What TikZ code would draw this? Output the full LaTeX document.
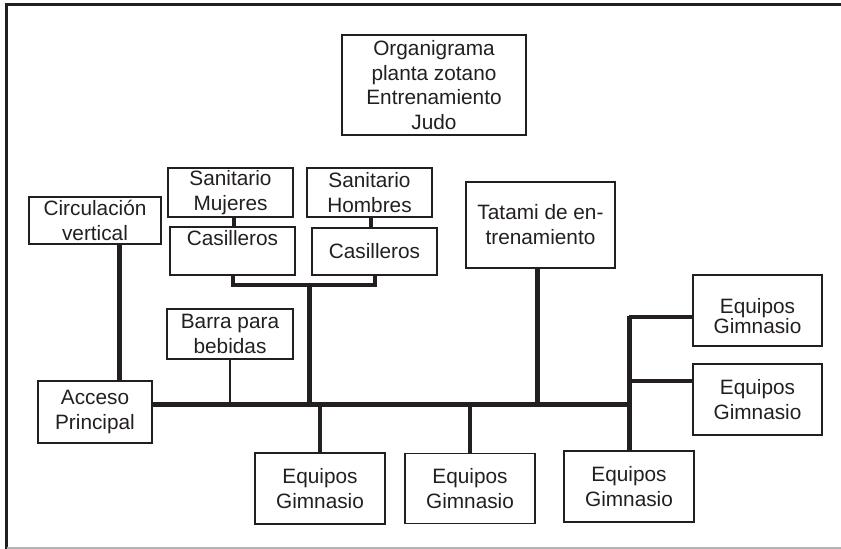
\documentclass[tikz,border=0pt]{standalone}
\usepackage{fontspec}
\setmainfont{Liberation Sans}
\usetikzlibrary{positioning}
\definecolor{inkdark}{HTML}{231F20}
\definecolor{framegray}{HTML}{B4B4B4}
\newcommand{\dropline}[1]{\raisebox{-6pt}[\height][\depth]{#1}}
\tikzset{
  roomnode/.style={draw=inkdark,line width=1.8pt,inner sep=0pt,align=center,
    text=inkdark,font=\fontsize{20.8}{25}\selectfont},
  titlenode/.style={roomnode,line width=1.5pt,font=\fontsize{20.8}{24.5}\selectfont},
  thkedge/.style={draw=inkdark,line width=5pt},
  midedge/.style={draw=inkdark,line width=4pt},
  sideedge/.style={draw=inkdark,line width=3.5pt},
  thnedge/.style={draw=inkdark,line width=2.5pt},
}

\begin{document}
\begin{tikzpicture}[x=1pt,y=-1pt]
  \useasboundingbox (0,0) rectangle (841,549);
  % frame
  \draw[inkdark,line width=3pt] (841,4) -- (6.5,4) -- (6.5,549);
  \draw[framegray,line width=1.5pt] (6.5,548) -- (841,548);
  % rooms
  \node[titlenode,minimum width=184,minimum height=100] (nTitle) at (434,85)
    {Organigrama\\planta zotano\\Entrenamiento\\Judo};
  \node[roomnode,minimum width=132,minimum height=47] (nCirc) at (95,220.5) {Circulación\\vertical};
  \node[roomnode,minimum width=125,minimum height=49] (nSanM) at (230.5,192.5) {Sanitario\\Mujeres};
  \node[roomnode,minimum width=125,minimum height=49] (nSanH) at (369.5,192.5) {Sanitario\\Hombres};
  \node[roomnode,minimum width=125,minimum height=48] (nCasL) at (232.5,251) {Casilleros\\\phantom{Casilleros}};
  \node[roomnode,minimum width=125,minimum height=47] (nCasR) at (374.5,251.5) {Casilleros};
  \node[roomnode,minimum width=149,minimum height=86] (nTatami) at (540.5,225) {Tatami de en-\\trenamiento};
  \node[roomnode,minimum width=126,minimum height=50] (nBarra) at (230,334) {Barra para\\bebidas};
  \node[roomnode,minimum width=114,minimum height=62] (nAcc) at (95,412) {Acceso\\Principal};
  \node[roomnode,minimum width=130,minimum height=71] (nEqA) at (320,488.5) {Equipos\\Gimnasio};
  \node[roomnode,minimum width=130,minimum height=70] (nEqB) at (470,488.5) {Equipos\\Gimnasio};
  \node[roomnode,minimum width=130,minimum height=71] (nEqC) at (629,486.5) {Equipos\\Gimnasio};
  \node[roomnode,minimum width=129,minimum height=71] (nEqD) at (757.5,310.5)
    {\dropline{Equipos}\\[-5pt]\dropline{Gimnasio}};
  \node[roomnode,minimum width=129,minimum height=71] (nEqE) at (757.5,399.5) {Equipos\\Gimnasio};
  % junctions
  \coordinate (cMain) at (631,404);
  \coordinate (cBrk) at (309,285);
  \coordinate (cTop) at (629,315.5);
  \coordinate (cSideA) at (629,317);
  \coordinate (cSideB) at (629,381);
  % connectors
  \draw[thkedge] ([xshift=24pt]nCirc.south) -- ([xshift=24pt]nAcc.north);
  \draw[midedge] ([xshift=3pt]nSanM.south) -- ([xshift=3pt]nSanM.south |- nCasL.north);
  \draw[midedge] ([xshift=1.5pt]nSanH.south) -- ([xshift=1.5pt]nSanH.south |- nCasR.north);
  \draw[midedge] (nCasL.south) |- (cBrk) -| (nCasR.south);
  \draw[thkedge] (cBrk) -- (cBrk |- cMain);
  \draw[thkedge] (nAcc.east |- cMain) -- (cMain);
  \draw[thnedge] (nBarra.south) -- (nBarra.south |- cMain);
  \draw[thkedge] ([xshift=-3pt]nTatami.south) -- ([xshift=-3pt]nTatami.south |- cMain);
  \draw[midedge] (nEqA.north |- cMain) -- (nEqA.north);
  \draw[midedge] (nEqB.north |- cMain) -- (nEqB.north);
  \draw[thkedge] (cTop) -- (nEqC.north);
  \draw[sideedge] (cSideA) -- (cSideA -| nEqD.west);
  \draw[sideedge] (cSideB) -- (cSideB -| nEqE.west);
\end{tikzpicture}
\end{document}
